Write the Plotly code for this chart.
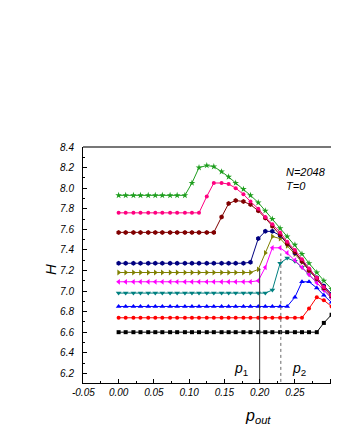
import plotly.graph_objects as go

# ---- data ----
P = [0.000, 0.010, 0.021, 0.031, 0.042, 0.052, 0.062, 0.073, 0.083, 0.094,
     0.104, 0.114, 0.125, 0.135, 0.146, 0.156, 0.166, 0.177, 0.187, 0.198,
     0.208, 0.218, 0.229, 0.239, 0.250, 0.260, 0.270, 0.281, 0.291, 0.302, 0.312]

H_green = [7.93, 7.93, 7.93, 7.93, 7.93, 7.93, 7.93, 7.93, 7.93, 7.93,
           8.05, 8.20, 8.22, 8.21, 8.16, 8.11, 8.05, 7.99, 7.93, 7.86,
           7.78, 7.70, 7.61, 7.53, 7.45, 7.36, 7.27, 7.18, 7.10, 7.02, 6.94]
H_pink = [7.76, 7.76, 7.76, 7.76, 7.76, 7.76, 7.76, 7.76, 7.76, 7.76,
          7.76, 7.76, 7.92, 8.05, 8.05, 8.04, 8.00, 7.94, 7.87, 7.80,
          7.72, 7.65, 7.57, 7.48, 7.40, 7.31, 7.22, 7.13, 7.04, 6.96, 6.88]
H_wine = [7.57, 7.57, 7.57, 7.57, 7.57, 7.57, 7.57, 7.57, 7.57, 7.57,
          7.57, 7.57, 7.57, 7.57, 7.72, 7.85, 7.88, 7.87, 7.84, 7.78,
          7.71, 7.63, 7.55, 7.46, 7.38, 7.29, 7.20, 7.12, 7.03, 6.95, 6.87]
H_navy = [7.27, 7.27, 7.27, 7.27, 7.27, 7.27, 7.27, 7.27, 7.27, 7.27,
          7.27, 7.27, 7.27, 7.27, 7.27, 7.27, 7.27, 7.27, 7.28, 7.51,
          7.58, 7.58, 7.54, 7.46, 7.37, 7.29, 7.21, 7.13, 7.05, 6.97, 6.89]
H_olive = [7.18, 7.18, 7.18, 7.18, 7.18, 7.18, 7.18, 7.18, 7.18, 7.18,
           7.18, 7.18, 7.18, 7.18, 7.18, 7.18, 7.18, 7.18, 7.18, 7.21,
           7.37, 7.53, 7.51, 7.44, 7.36, 7.28, 7.20, 7.12, 7.04, 6.96, 6.88]
H_magenta = [7.09, 7.09, 7.09, 7.09, 7.09, 7.09, 7.09, 7.09, 7.09, 7.09,
             7.09, 7.09, 7.09, 7.09, 7.09, 7.09, 7.09, 7.09, 7.09, 7.10,
             7.23, 7.42, 7.42, 7.37, 7.30, 7.23, 7.16, 7.08, 7.01, 6.93, 6.86]
H_teal = [6.98, 6.98, 6.98, 6.98, 6.98, 6.98, 6.98, 6.98, 6.98, 6.98,
          6.98, 6.98, 6.98, 6.98, 6.98, 6.98, 6.98, 6.98, 6.98, 6.98,
          6.98, 7.01, 7.27, 7.32, 7.29, 7.23, 7.16, 7.09, 7.01, 6.93, 6.85]
H_blue = [6.85, 6.85, 6.85, 6.85, 6.85, 6.85, 6.85, 6.85, 6.85, 6.85,
          6.85, 6.85, 6.85, 6.85, 6.85, 6.85, 6.85, 6.85, 6.85, 6.85,
          6.85, 6.85, 6.85, 6.85, 6.94, 7.09, 7.09, 7.03, 6.96, 6.89, 6.82]
H_red = [6.74, 6.74, 6.74, 6.74, 6.74, 6.74, 6.74, 6.74, 6.74, 6.74,
         6.74, 6.74, 6.74, 6.74, 6.74, 6.74, 6.74, 6.74, 6.74, 6.74,
         6.74, 6.74, 6.74, 6.74, 6.74, 6.74, 6.83, 6.94, 6.91, 6.85, 6.77]
H_black = [6.60, 6.60, 6.60, 6.60, 6.60, 6.60, 6.60, 6.60, 6.60, 6.60,
           6.60, 6.60, 6.60, 6.60, 6.60, 6.60, 6.60, 6.60, 6.60, 6.60,
           6.60, 6.60, 6.60, 6.60, 6.60, 6.60, 6.60, 6.60, 6.69, 6.77, 6.70]

X_TICKS = [-0.05, 0.00, 0.05, 0.10, 0.15, 0.20, 0.25, 0.30]
X_TICK_LABELS = ["-0.05", "0.00", "0.05", "0.10", "0.15", "0.20", "0.25", "0.30"]
Y_TICKS = [6.2, 6.4, 6.6, 6.8, 7.0, 7.2, 7.4, 7.6, 7.8, 8.0, 8.2, 8.4]
Y_TICK_LABELS = ["6.2", "6.4", "6.6", "6.8", "7.0", "7.2", "7.4", "7.6", "7.8", "8.0", "8.2", "8.4"]

P_MARKS = [0.200, 0.230]          # p1, p2 positions
P_MARK_TOPS = [7.22, 7.365]       # heights of the p1/p2 marker lines

series = [
    (H_black, "#000000", "square", 4),
    (H_red, "#FF0000", "circle", 4),
    (H_blue, "#0000FF", "triangle-up", 5),
    (H_teal, "#008080", "triangle-down", 5),
    (H_magenta, "#FF00FF", "triangle-left", 5),
    (H_olive, "#808000", "triangle-right", 5),
    (H_navy, "#000080", "hexagon", 5),
    (H_wine, "#800000", "hexagon", 5),
    (H_pink, "#FF0080", "circle", 4),
    (H_green, "#1E9E1E", "star", 5),
]

FONT = "Liberation Sans, Arial, sans-serif"

fig = go.Figure()
for h, c, sym, sz in series:
    fig.add_trace(go.Scatter(
        x=P[:len(h)], y=h, mode="lines+markers",
        line=dict(color=c, width=1),
        marker=dict(color=c, symbol=sym, size=sz, line=dict(width=0)),
        showlegend=False,
    ))

# p1 / p2 marker lines
fig.add_trace(go.Scatter(x=[P_MARKS[0], P_MARKS[0]], y=[6.0, P_MARK_TOPS[0]], mode="lines",
                         line=dict(color="#333333", width=1), showlegend=False))
fig.add_trace(go.Scatter(x=[P_MARKS[1], P_MARKS[1]], y=[6.0, P_MARK_TOPS[1]], mode="lines",
                         line=dict(color="#666666", width=1, dash="dot"), showlegend=False))

OFF = 8  # page body margin
W, Hh = 339 - OFF, 421            # fit inside the viewport
l, t = 83 - OFF, 147 - OFF
b = Hh - (383 - OFF)
pw, ph = W - l, Hh - t - b


def px(xp, yp):
    # page pixel -> paper coords
    return (xp - OFF - l) / pw, 1 - (yp - OFF - t) / ph


ann = []
for txt, xp, yp, size, anchor in [
    ("<i>N=2048</i>", 284, 172, 11, "left"),
    ("<i>T=0</i>", 284, 186, 11, "left"),
    ("<i>p</i><sub>1</sub>", 241, 369, 14, "center"),
    ("<i>p</i><sub>2</sub>", 299, 369, 14, "center"),
    ("<i>p</i><sub><i>out</i></sub>", 258, 416, 16, "center"),
]:
    xx, yy = px(xp, yp)
    ann.append(dict(text=txt, x=xx, y=yy, xref="paper", yref="paper", showarrow=False,
                    xanchor=anchor, yanchor="middle", font=dict(size=size, family=FONT)))
xx, yy = px(50, 270)
ann.append(dict(text="<i>H</i>", x=xx, y=yy, xref="paper", yref="paper", showarrow=False,
                textangle=-90, xanchor="center", yanchor="middle", font=dict(size=15, family=FONT)))

bx0, by0 = px(332, 285)
bx1, by1 = px(339, 148)

fig.update_layout(
    width=W, height=Hh,
    margin=dict(l=l, r=0, t=t, b=b, autoexpand=False),
    paper_bgcolor="white", plot_bgcolor="white",
    font=dict(family=FONT, color="black"),
    xaxis=dict(
        range=[-0.0505, 0.3125], tickvals=X_TICKS, ticktext=X_TICK_LABELS,
        showgrid=False, zeroline=False, showline=True, linecolor="black", linewidth=1,
        ticks="inside", ticklen=4, tickcolor="black", automargin=False,
        minor=dict(ticks="inside", ticklen=2, dtick=0.025, tick0=0, tickcolor="black"),
        tickfont=dict(size=10, style="italic", family=FONT),
    ),
    yaxis=dict(
        range=[6.106, 8.4], tickvals=Y_TICKS, ticktext=Y_TICK_LABELS,
        showgrid=False, zeroline=False, showline=True, linecolor="black", linewidth=1,
        ticks="inside", ticklen=4, tickcolor="black", automargin=False,
        minor=dict(ticks="inside", ticklen=2, dtick=0.1, tick0=6.1, tickcolor="black"),
        tickfont=dict(size=10, style="italic", family=FONT),
        ticklabelstandoff=6,
    ),
    shapes=[
        dict(type="line", xref="paper", yref="paper", x0=0, x1=1, y0=1, y1=1,
             line=dict(color="#777777", width=2)),
        dict(type="line", xref="paper", yref="paper", x0=bx0, x1=bx0, y0=by0, y1=by1,
             line=dict(color="#AAAAAA", width=2), layer="above"),
        dict(type="line", xref="paper", yref="paper", x0=bx0, x1=bx1, y0=by0, y1=by0,
             line=dict(color="#AAAAAA", width=2), layer="above"),
    ],
    annotations=ann,
)

NO_SCROLL = ("document.documentElement.style.overflow='hidden';"
             "document.body.style.overflow='hidden';")
fig.write_html("out.html", post_script=NO_SCROLL)
